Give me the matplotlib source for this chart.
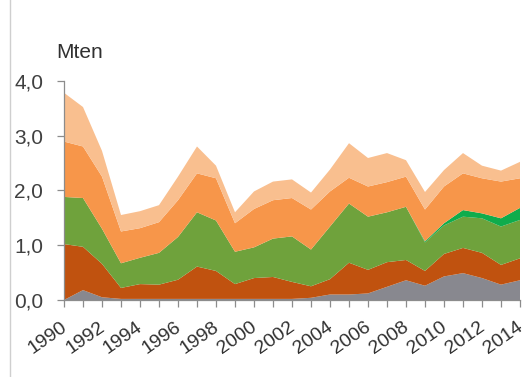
import numpy as np
import matplotlib
matplotlib.use("Agg")
import matplotlib.pyplot as plt
from matplotlib.lines import Line2D
from matplotlib.ticker import FuncFormatter, MultipleLocator
from matplotlib.transforms import ScaledTranslation

years = list(range(1990, 2015))

# layer values (Mten), bottom to top
grey = [0.00, 0.18, 0.05, 0.02, 0.02, 0.02, 0.02, 0.02, 0.02, 0.02, 0.02, 0.02, 0.02,
        0.04, 0.10, 0.10, 0.12, 0.24, 0.36, 0.26, 0.43, 0.49, 0.40, 0.28, 0.36]
brown = [1.02, 0.79, 0.61, 0.20, 0.27, 0.26, 0.35, 0.59, 0.51, 0.27, 0.38, 0.40, 0.31,
         0.21, 0.28, 0.58, 0.43, 0.45, 0.37, 0.27, 0.41, 0.46, 0.46, 0.36, 0.40]
olive = [0.86, 0.89, 0.64, 0.45, 0.48, 0.58, 0.78, 0.99, 0.92, 0.59, 0.56, 0.70, 0.83,
         0.67, 0.96, 1.08, 0.97, 0.91, 0.97, 0.52, 0.52, 0.57, 0.63, 0.70, 0.70]
bright = [0, 0, 0, 0, 0, 0, 0, 0, 0, 0, 0, 0, 0,
          0, 0, 0, 0, 0, 0, 0.02, 0.04, 0.12, 0.09, 0.15, 0.22]
orange = [1.01, 0.94, 0.95, 0.58, 0.54, 0.56, 0.67, 0.71, 0.77, 0.52, 0.70, 0.70, 0.70,
          0.73, 0.64, 0.47, 0.55, 0.55, 0.55, 0.58, 0.67, 0.67, 0.64, 0.67, 0.54]
peach = [0.89, 0.72, 0.47, 0.30, 0.31, 0.31, 0.43, 0.49, 0.23, 0.20, 0.32, 0.34, 0.34,
         0.31, 0.40, 0.63, 0.52, 0.53, 0.30, 0.32, 0.30, 0.37, 0.23, 0.20, 0.30]

colors = ['#88888f', '#c0520f', '#6fa23c', '#0fac4c', '#f7964a', '#f9bf8f']

plt.rcParams['font.family'] = ['Liberation Sans', 'DejaVu Sans']

fig = plt.figure(figsize=(5.25, 3.77), dpi=100)
ax = fig.add_axes([64 / 525, 1 - 300 / 377, (520 - 64) / 525, (300 - 80.7) / 377])

ax.stackplot(years, grey, brown, olive, bright, orange, peach, colors=colors, lw=0)

ax.set_xlim(1990, 2014)
ax.set_ylim(0, 4)
ax.xaxis.set_major_locator(MultipleLocator(2))
ax.xaxis.set_minor_locator(MultipleLocator(1))
ax.yaxis.set_major_locator(MultipleLocator(1))
ax.yaxis.set_major_formatter(FuncFormatter(lambda v, p: f"{v:.1f}".replace('.', ',')))

for s in ['top', 'right']:
    ax.spines[s].set_visible(False)
for s in ['left', 'bottom']:
    ax.spines[s].set_color('#8c8c8c')
    ax.spines[s].set_linewidth(0.9)

ax.tick_params(axis='both', which='both', color='#8c8c8c', direction='out', length=5, width=0.9)
ax.tick_params(axis='y', labelsize=15, labelcolor='#404040', pad=10)
ax.tick_params(axis='x', labelsize=14, labelcolor='#303030', pad=8)
shift = ScaledTranslation(-4 / 100, 0, fig.dpi_scale_trans)
for lab in ax.get_xticklabels():
    lab.set_rotation(35)
    lab.set_ha('right')
    lab.set_va('top')
    lab.set_rotation_mode('anchor')
    lab.set_transform(lab.get_transform() + shift)

fig.text(80 / 525, 1 - 52 / 377, 'Mten', ha='center', va='center', fontsize=15, color='#303030')

# thin border line on the left of the picture
fig.add_artist(Line2D([10 / 525, 10 / 525], [0, 1], color='#cfcfcf', lw=1))

fig.savefig('out.png', dpi=100)
